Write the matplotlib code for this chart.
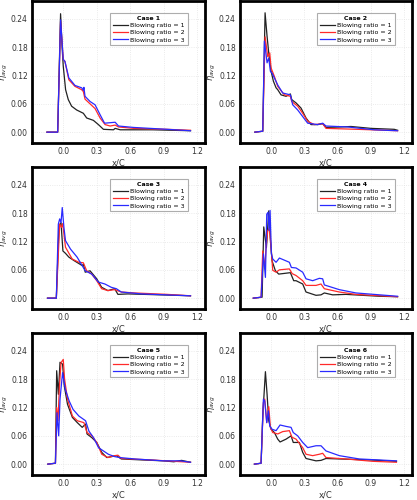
import matplotlib.pyplot as plt

# values (x/C, eta_avg)
case1_br1_x = [-0.146, -0.05, -0.024, -0.009, 0.0, 0.021, 0.045, 0.075, 0.12, 0.18, 0.21, 0.27, 0.315, 0.36, 0.45, 0.465, 0.51, 0.8, 1.14]
case1_br1_y = [0.0, 0.0, 0.251, 0.175, 0.14, 0.09, 0.069, 0.055, 0.047, 0.04, 0.03, 0.025, 0.016, 0.006, 0.005, 0.008, 0.005, 0.005, 0.003]
case1_br2_x = [-0.146, -0.05, -0.024, 0.0, 0.015, 0.05, 0.105, 0.165, 0.18, 0.195, 0.24, 0.285, 0.33, 0.375, 0.42, 0.465, 0.495, 0.63, 0.93, 1.14]
case1_br2_y = [0.0, 0.0, 0.235, 0.154, 0.15, 0.111, 0.097, 0.09, 0.086, 0.07, 0.06, 0.05, 0.03, 0.016, 0.013, 0.015, 0.011, 0.008, 0.006, 0.004]
case1_br3_x = [-0.146, -0.05, -0.024, 0.0, 0.015, 0.05, 0.105, 0.165, 0.18, 0.185, 0.195, 0.24, 0.285, 0.33, 0.37, 0.42, 0.465, 0.495, 0.63, 0.93, 1.14]
case1_br3_y = [0.0, 0.0, 0.238, 0.154, 0.15, 0.115, 0.099, 0.094, 0.089, 0.095, 0.076, 0.065, 0.058, 0.037, 0.019, 0.02, 0.021, 0.013, 0.01, 0.006, 0.003]

case2_br1_x = [-0.146, -0.075, -0.054, -0.036, -0.021, 0.0, 0.021, 0.045, 0.06, 0.09, 0.135, 0.174, 0.186, 0.225, 0.27, 0.315, 0.36, 0.42, 0.465, 0.495, 0.63, 0.72, 0.9, 1.11, 1.14]
case2_br1_y = [0.0, 0.002, 0.253, 0.203, 0.168, 0.129, 0.108, 0.094, 0.09, 0.079, 0.076, 0.081, 0.069, 0.062, 0.051, 0.03, 0.016, 0.016, 0.018, 0.01, 0.011, 0.012, 0.008, 0.006, 0.004]
case2_br2_x = [-0.146, -0.075, -0.054, -0.03, -0.012, 0.0, 0.03, 0.06, 0.12, 0.174, 0.186, 0.24, 0.285, 0.33, 0.39, 0.465, 0.495, 0.78, 1.14]
case2_br2_y = [0.0, 0.002, 0.202, 0.16, 0.168, 0.136, 0.118, 0.097, 0.079, 0.076, 0.065, 0.055, 0.04, 0.023, 0.016, 0.018, 0.008, 0.006, 0.003]
case2_br3_x = [-0.146, -0.075, -0.06, -0.036, -0.021, -0.006, 0.009, 0.06, 0.105, 0.174, 0.195, 0.24, 0.285, 0.33, 0.42, 0.465, 0.495, 0.69, 0.93, 1.14]
case2_br3_y = [0.0, 0.002, 0.193, 0.147, 0.157, 0.129, 0.125, 0.1, 0.083, 0.079, 0.058, 0.047, 0.033, 0.019, 0.016, 0.019, 0.013, 0.011, 0.005, 0.003]

case3_br1_x = [-0.141, -0.062, -0.038, -0.02, -0.003, 0.02, 0.05, 0.094, 0.17, 0.18, 0.197, 0.24, 0.3, 0.344, 0.4, 0.46, 0.49, 0.58, 0.87, 1.14]
case3_br1_y = [0.0, 0.0, 0.153, 0.16, 0.1, 0.095, 0.087, 0.08, 0.069, 0.072, 0.055, 0.058, 0.041, 0.023, 0.016, 0.02, 0.008, 0.009, 0.007, 0.005]
case3_br2_x = [-0.141, -0.062, -0.032, -0.015, -0.005, 0.02, 0.08, 0.14, 0.18, 0.21, 0.255, 0.3, 0.344, 0.4, 0.46, 0.52, 0.64, 0.93, 1.14]
case3_br2_y = [0.0, 0.0, 0.157, 0.15, 0.158, 0.108, 0.083, 0.076, 0.075, 0.058, 0.051, 0.037, 0.02, 0.016, 0.018, 0.013, 0.011, 0.008, 0.005]
case3_br3_x = [-0.141, -0.062, -0.044, -0.032, -0.02, -0.009, 0.006, 0.02, 0.065, 0.124, 0.197, 0.255, 0.315, 0.373, 0.43, 0.476, 0.52, 0.7, 1.14]
case3_br3_y = [0.0, 0.0, 0.157, 0.168, 0.16, 0.192, 0.15, 0.122, 0.104, 0.087, 0.058, 0.051, 0.034, 0.03, 0.023, 0.02, 0.013, 0.009, 0.005]

case4_br1_x = [-0.16, -0.081, -0.066, -0.042, -0.021, -0.005, 0.009, 0.039, 0.069, 0.174, 0.204, 0.225, 0.285, 0.315, 0.405, 0.45, 0.48, 0.555, 0.675, 0.975, 1.14]
case4_br1_y = [0.0, 0.002, 0.151, 0.107, 0.185, 0.12, 0.079, 0.058, 0.051, 0.054, 0.037, 0.037, 0.03, 0.013, 0.006, 0.007, 0.011, 0.007, 0.008, 0.004, 0.003]
case4_br2_x = [-0.16, -0.09, -0.075, -0.057, -0.045, -0.03, -0.015, 0.0, 0.015, 0.045, 0.075, 0.165, 0.19, 0.225, 0.285, 0.315, 0.405, 0.45, 0.48, 0.615, 0.765, 1.14]
case4_br2_y = [0.0, 0.002, 0.1, 0.062, 0.108, 0.143, 0.148, 0.108, 0.059, 0.055, 0.06, 0.062, 0.052, 0.048, 0.037, 0.027, 0.027, 0.03, 0.02, 0.013, 0.008, 0.003]
case4_br3_x = [-0.16, -0.09, -0.069, -0.051, -0.039, -0.027, -0.018, -0.009, 0.003, 0.015, 0.045, 0.075, 0.165, 0.183, 0.225, 0.285, 0.315, 0.375, 0.435, 0.465, 0.48, 0.615, 0.765, 1.14]
case4_br3_y = [0.0, 0.002, 0.094, 0.044, 0.178, 0.182, 0.143, 0.186, 0.094, 0.083, 0.076, 0.085, 0.076, 0.065, 0.064, 0.055, 0.041, 0.037, 0.042, 0.041, 0.028, 0.018, 0.011, 0.004]

case5_br1_x = [-0.138, -0.07, -0.059, -0.044, -0.029, -0.006, 0.009, 0.038, 0.082, 0.126, 0.17, 0.2, 0.213, 0.257, 0.3, 0.345, 0.39, 0.433, 0.477, 0.52, 0.7, 0.9, 0.99, 1.06, 1.14]
case5_br1_y = [0.0, 0.002, 0.198, 0.148, 0.216, 0.212, 0.166, 0.127, 0.099, 0.088, 0.078, 0.085, 0.064, 0.056, 0.046, 0.025, 0.014, 0.016, 0.018, 0.011, 0.009, 0.007, 0.005, 0.008, 0.004]
case5_br2_x = [-0.138, -0.07, -0.059, -0.047, -0.035, -0.02, 0.0, 0.012, 0.038, 0.082, 0.126, 0.185, 0.213, 0.257, 0.3, 0.345, 0.4, 0.46, 0.49, 0.52, 0.78, 1.14]
case5_br2_y = [0.0, 0.002, 0.12, 0.092, 0.162, 0.215, 0.222, 0.18, 0.138, 0.102, 0.092, 0.088, 0.067, 0.06, 0.046, 0.021, 0.014, 0.018, 0.019, 0.012, 0.009, 0.004]
case5_br3_x = [-0.138, -0.07, -0.056, -0.041, -0.029, -0.006, 0.018, 0.053, 0.088, 0.14, 0.2, 0.23, 0.272, 0.316, 0.36, 0.404, 0.46, 0.506, 0.64, 0.9, 1.05, 1.14]
case5_br3_y = [0.0, 0.002, 0.109, 0.06, 0.138, 0.194, 0.159, 0.134, 0.116, 0.102, 0.092, 0.07, 0.056, 0.035, 0.028, 0.021, 0.016, 0.014, 0.011, 0.007, 0.007, 0.004]

case6_br1_x = [-0.15, -0.09, -0.075, -0.051, -0.036, -0.021, 0.0, 0.03, 0.06, 0.081, 0.135, 0.18, 0.2, 0.255, 0.285, 0.315, 0.405, 0.45, 0.495, 0.615, 0.885, 1.13]
case6_br1_y = [0.0, 0.002, 0.102, 0.196, 0.148, 0.092, 0.074, 0.067, 0.053, 0.047, 0.053, 0.06, 0.046, 0.046, 0.025, 0.012, 0.007, 0.008, 0.012, 0.011, 0.009, 0.006]
case6_br2_x = [-0.15, -0.09, -0.069, -0.057, -0.039, -0.021, -0.006, 0.015, 0.06, 0.105, 0.165, 0.189, 0.225, 0.285, 0.315, 0.375, 0.435, 0.465, 0.495, 0.675, 0.915, 1.13]
case6_br2_y = [0.0, 0.002, 0.131, 0.138, 0.088, 0.122, 0.078, 0.067, 0.064, 0.069, 0.071, 0.057, 0.053, 0.035, 0.021, 0.018, 0.021, 0.023, 0.014, 0.011, 0.006, 0.004]
case6_br3_x = [-0.15, -0.09, -0.069, -0.057, -0.039, -0.024, -0.012, 0.009, 0.045, 0.081, 0.135, 0.18, 0.2, 0.24, 0.285, 0.33, 0.405, 0.45, 0.495, 0.615, 0.795, 1.13]
case6_br3_y = [0.0, 0.002, 0.138, 0.134, 0.088, 0.113, 0.081, 0.074, 0.071, 0.083, 0.08, 0.078, 0.067, 0.06, 0.046, 0.035, 0.039, 0.039, 0.028, 0.018, 0.011, 0.007]

cases = [
    ("Case 1", [(case1_br1_x, case1_br1_y), (case1_br2_x, case1_br2_y), (case1_br3_x, case1_br3_y)]),
    ("Case 2", [(case2_br1_x, case2_br1_y), (case2_br2_x, case2_br2_y), (case2_br3_x, case2_br3_y)]),
    ("Case 3", [(case3_br1_x, case3_br1_y), (case3_br2_x, case3_br2_y), (case3_br3_x, case3_br3_y)]),
    ("Case 4", [(case4_br1_x, case4_br1_y), (case4_br2_x, case4_br2_y), (case4_br3_x, case4_br3_y)]),
    ("Case 5", [(case5_br1_x, case5_br1_y), (case5_br2_x, case5_br2_y), (case5_br3_x, case5_br3_y)]),
    ("Case 6", [(case6_br1_x, case6_br1_y), (case6_br2_x, case6_br2_y), (case6_br3_x, case6_br3_y)]),
]
labels = ["Blowing ratio = 1", "Blowing ratio = 2", "Blowing ratio = 3"]
colors = ["#222222", "#ff2a2a", "#2a2aff"]
xticks = [0.0, 0.3, 0.6, 0.9, 1.2]
yticks = [0.0, 0.06, 0.12, 0.18, 0.24]

fig = plt.figure(figsize=(4.17, 5.0), dpi=100)
lefts = [32 / 417, 240 / 417]
widths = [173 / 417, 172 / 417]
tops = [0, 166, 332]
h = 142

for i, (title, series) in enumerate(cases):
    row, col = divmod(i, 2)
    bottom = 1 - (tops[row] + 1 + h) / 500
    ax = fig.add_axes([lefts[col], bottom, widths[col], h / 500])
    ax.set_zorder(10 - row)  # keep x labels above the next row
    for (x, y), lab, c in zip(series, labels, colors):
        ax.plot(x, y, color=c, lw=0.9, label=lab)
    ax.set_xlim(-0.28, 1.27)
    ax.set_ylim(-0.023, 0.278)
    ax.set_xticks(xticks)
    ax.set_yticks(yticks)
    ax.set_xticklabels(["%.1f" % t for t in xticks])
    ax.set_yticklabels(["%.2f" % t for t in yticks])
    ax.tick_params(labelsize=5.5, length=0, pad=3, colors="#333333")
    ax.grid(True, color="#e4e4e4", lw=0.6, ls=":")
    for s in ax.spines.values():
        s.set_linewidth(2.0)
        s.set_color("black")
    ax.set_xlabel("x/C", fontsize=6, labelpad=2, color="#333333")
    ax.set_ylabel(r"$\eta_{avg}$", fontsize=6, color="#333333")
    ax.yaxis.set_label_coords(-0.125, 0.5)
    leg = ax.legend(title=title, loc="upper right", bbox_to_anchor=(0.9, 0.915),
                    fontsize=4.5, title_fontsize=4.5, frameon=True, fancybox=False,
                    borderpad=0.45, labelspacing=0.3, handlelength=2.4,
                    handletextpad=0.4, borderaxespad=0)
    leg.get_title().set_fontweight("bold")
    leg.get_frame().set_edgecolor("#999999")
    leg.get_frame().set_linewidth(0.8)

fig.savefig("out.png", dpi=100)
